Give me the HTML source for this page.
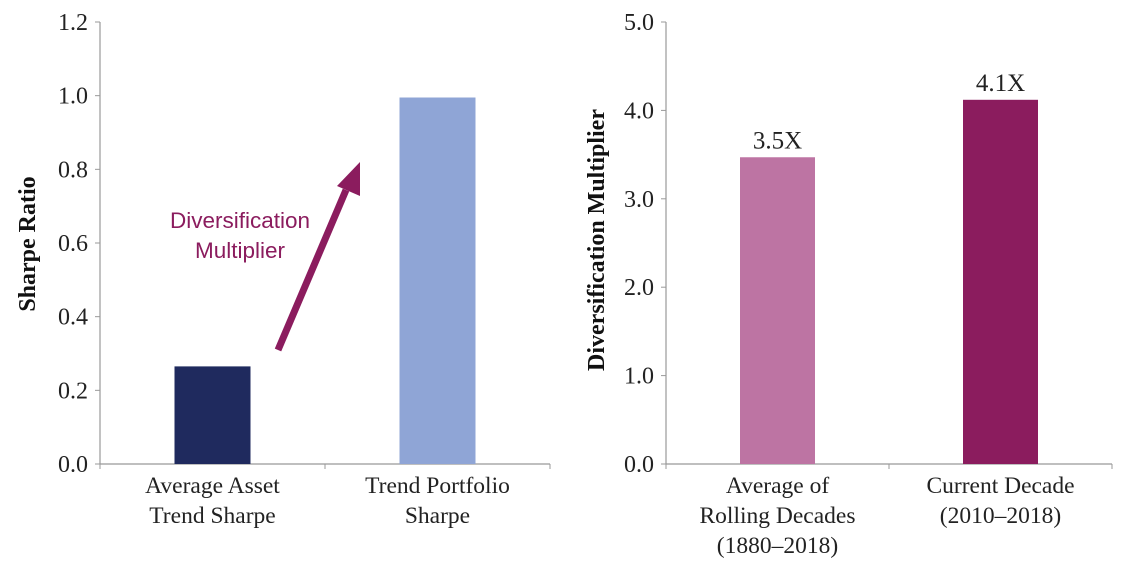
<!DOCTYPE html>
<html><head><meta charset="utf-8"><style>
body{margin:0;background:#fff;}
svg{display:block;font-family:"Liberation Serif",serif;}
</style></head><body>
<svg width="1122" height="564">
<g id="left"></g>
<g id="right"></g>
</svg>
<script>
const leftCats=[["Average Asset","Trend Sharpe"],["Trend Portfolio","Sharpe"]];
const leftVals=[0.265,0.995];
const leftTicks=[0,0.2,0.4,0.6,0.8,1.0,1.2];
const rightCats=[["Average of","Rolling Decades","(1880–2018)"],["Current Decade","(2010–2018)"]];
const rightVals=[3.47,4.12];
const rightLabels=["3.5X","4.1X"];
const rightTicks=[0,1,2,3,4,5];
const NS="http://www.w3.org/2000/svg";
function mk(p,t,a){const e=document.createElementNS(NS,t);for(const k in a)e.setAttribute(k,a[k]);p.appendChild(e);return e;}
function chart(g,o){
  const y=v=>o.y0-(v/o.max)*(o.y0-o.y1);
  const bw=o.x1-o.x0, cw=bw/o.vals.length;
  const ax=mk(g,'line',{x1:o.x0,y1:o.y1,x2:o.x0,y2:o.y0,stroke:'#999','stroke-width':1.2});
  
  
  const xa=mk(g,'line',{x1:o.x0,y1:o.y0,x2:o.x1,y2:o.y0,stroke:'#999','stroke-width':1.2});
  
  
  for(let i=0;i<=o.vals.length;i++){mk(g,'line',{x1:o.x0+i*cw,y1:o.y0,x2:o.x0+i*cw,y2:o.y0+5,stroke:'#999'});}
  o.ticks.forEach(t=>{
    mk(g,'line',{x1:o.x0-5,y1:y(t),x2:o.x0,y2:y(t),stroke:'#999'});
    const tx=mk(g,'text',{x:o.x0-12,y:y(t)+8,'text-anchor':'end','font-size':24,fill:'#222'});
    tx.textContent=t.toFixed(1);
    
    
  });
  o.vals.forEach((v,i)=>{
    const cx=o.x0+cw*(i+0.5);
    const r=mk(g,'rect',{x:cx-o.barW/2,y:y(v),width:o.barW,height:o.y0-y(v),fill:o.colors[i]});
    
    
    if(o.labels){const l=mk(g,'text',{x:cx,y:y(v)-9,'text-anchor':'middle','font-size':25,fill:'#222'});l.textContent=o.labels[i];
      
      }
    o.cats[i].forEach((s,j)=>{const t=mk(g,'text',{x:cx,y:o.y0+29+j*30,'text-anchor':'middle','font-size':23.5,fill:'#222'});t.textContent=s;
      
      });
  });
  const yt=mk(g,'text',{transform:`translate(${o.titleX},${o.titleY}) rotate(-90)`,'text-anchor':'middle','font-size':o.titleSize,'font-weight':'bold',fill:'#111'});
  yt.textContent=o.title;
  
  
}
chart(document.getElementById('left'),{x0:100,x1:550,y0:464,y1:22,max:1.2,vals:leftVals,ticks:leftTicks,cats:leftCats,colors:['#1f2a5e','#8fa5d6'],barW:76,title:'Sharpe Ratio',titleX:35,titleY:244,titleSize:24});
chart(document.getElementById('right'),{x0:666,x1:1112,y0:464,y1:22,max:5,vals:rightVals,ticks:rightTicks,cats:rightCats,colors:['#bd74a3','#8b1c5e'],barW:75,labels:rightLabels,title:'Diversification Multiplier',titleX:604,titleY:240,titleSize:24});
const L=document.getElementById('left');
const ar=mk(L,'line',{x1:278,y1:350,x2:346,y2:190,stroke:'#8b1c5e','stroke-width':7});


const ah=mk(L,'polygon',{points:'360,162 337,186 360,196',fill:'#8b1c5e'});


['Diversification','Multiplier'].forEach((s,i)=>{const t=mk(L,'text',{x:240,y:228+i*30,'text-anchor':'middle','font-size':22.5,fill:'#8b1c5e','font-family':'Liberation Sans, sans-serif'});t.textContent=s;
  
  });
</script>
</body></html>
